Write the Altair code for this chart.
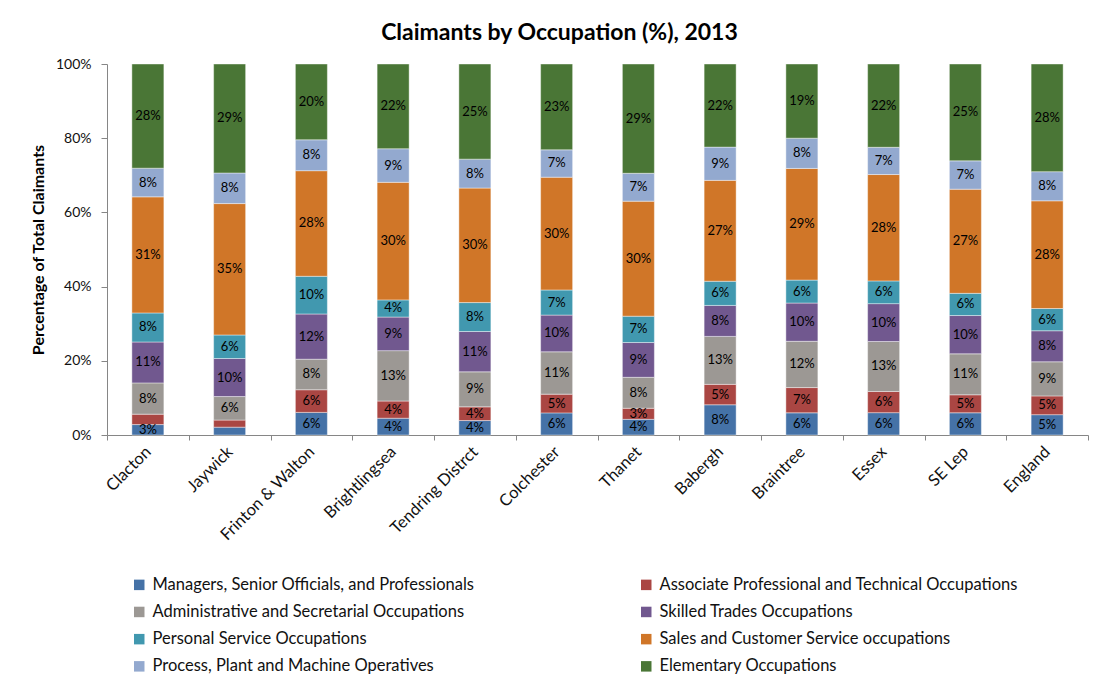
import altair as alt
import pandas as pd

sites = ["Clacton", "Jaywick", "Frinton & Walton", "Brightlingsea", "Tendring Distrct",
         "Colchester", "Thanet", "Babergh", "Braintree", "Essex", "SE Lep", "England"]

occupations = [
    "Managers, Senior Officials, and Professionals",
    "Associate Professional and Technical Occupations",
    "Administrative and Secretarial Occupations",
    "Skilled Trades Occupations",
    "Personal Service Occupations",
    "Sales and Customer Service occupations",
    "Process, Plant and Machine Operatives",
    "Elementary Occupations",
]

colors = ["#4572A7", "#AA4643", "#9C9894", "#71588F", "#4198AF", "#D07628", "#93A9CF", "#4A7636"]

# values (% of claimants) per site, in the order of `sites`
managers       = [2.8, 2.1, 6.0, 4.3, 3.8, 5.9, 4.1, 8.0, 5.8, 5.9, 5.8, 5.3]
associate      = [2.8, 1.9, 6.0, 4.4, 3.6, 5.0, 2.9, 5.4, 6.6, 5.6, 4.7, 4.9]
administrative = [8.4, 6.3, 8.1, 12.9, 9.2, 11.3, 8.1, 12.7, 12.1, 13.2, 10.7, 8.9]
skilled        = [11.0, 10.2, 12.0, 8.6, 10.6, 9.8, 9.1, 8.2, 10.0, 10.0, 10.0, 8.1]
personal       = [7.8, 6.3, 10.0, 4.4, 7.6, 6.7, 6.9, 6.4, 6.0, 6.0, 5.8, 5.8]
sales          = [31.2, 35.2, 28.0, 30.1, 30.1, 30.1, 30.1, 26.7, 29.2, 28.1, 27.2, 28.1]
process        = [7.7, 8.2, 8.2, 8.6, 7.6, 7.3, 7.3, 8.8, 7.9, 7.2, 7.4, 7.6]
elementary     = [28.0, 29.2, 20.1, 21.7, 25.0, 22.9, 28.6, 22.0, 19.4, 22.0, 25.3, 28.1]

series = [managers, associate, administrative, skilled, personal, sales, process, elementary]

# data labels that are not shown in the original
hidden_labels = [("Clacton", 1), ("Jaywick", 0), ("Jaywick", 1)]

rows = []
for i, site in enumerate(sites):
    total = sum(s[i] for s in series)
    cum = 0.0
    for j, occ in enumerate(occupations):
        v = series[j][i]
        y0 = cum / total
        cum += v
        y1 = cum / total
        label = "" if (site, j) in hidden_labels else f"{round(v):.0f}%"
        rows.append({"site": site, "occ": occ, "order": j, "value": v,
                     "y0": y0, "y1": y1, "mid": (y0 + y1) / 2, "label": label})
df = pd.DataFrame(rows)

FONT = "Lato"

x_enc = alt.X(
    "site:N", sort=sites,
    scale=alt.Scale(paddingInner=0, paddingOuter=0),
    axis=alt.Axis(title=None, labelAngle=315, labelAlign="right", labelBaseline="middle",
                  labelFontSize=16.5, labelPadding=9, tickBand="extent", tickSize=5,
                  grid=False,
                  domainColor="#868686", tickColor="#868686", labelColor="#111111",
                  labelFont=FONT),
)

bars = alt.Chart(df).mark_bar(width=32, stroke="#ffffff", strokeWidth=0.6, strokeOpacity=0.7).encode(
    x=x_enc,
    y=alt.Y("y0:Q", scale=alt.Scale(domain=[0, 1], nice=False),
            axis=alt.Axis(title="Percentage of Total Claimants", format=".0%",
                          values=[0, 0.2, 0.4, 0.6, 0.8, 1.0], grid=False,
                          tickSize=6, labelPadding=10, labelFontSize=14,
                          titleFontSize=16, titleFontWeight="bold", titlePadding=9,
                          domainColor="#868686", tickColor="#868686",
                          labelColor="#111111", titleColor="#000000",
                          labelFont=FONT, titleFont=FONT)),
    y2="y1:Q",
    color=alt.Color("occ:N", sort=occupations,
                    scale=alt.Scale(domain=occupations, range=colors),
                    legend=alt.Legend(orient="none", legendX=24, legendY=512.5, columns=2,
                                      direction="horizontal",
                                      title=None, symbolType="square", symbolSize=110,
                                      symbolStrokeWidth=0, labelFontSize=16.5, labelOffset=5,
                                      rowPadding=10.2, columnPadding=163, labelLimit=600,
                                      padding=0, labelFont=FONT, labelColor="#111111")),
    order=alt.Order("order:Q"),
)

texts = alt.Chart(df).mark_text(fontSize=13, color="#000000", font=FONT, baseline="middle").encode(
    x=alt.X("site:N", sort=sites),
    y=alt.Y("mid:Q"),
    text="label:N",
)

chart = (
    alt.layer(bars, texts)
    .properties(
        width=981,
        height=371,
        title=alt.TitleParams("Claimants by Occupation (%), 2013", fontSize=23, font=FONT,
                              fontWeight="bold", anchor="middle", frame="bounds", offset=12,
                              color="#000000"),
        padding={"left": 22, "top": 14, "right": 0, "bottom": 0},
    )
    .configure(font=FONT)
    .configure_view(strokeWidth=0, stroke=None)
    .configure_axis(grid=False)
)

chart.save("out.html", embed_options={"renderer": "svg", "actions": False})
